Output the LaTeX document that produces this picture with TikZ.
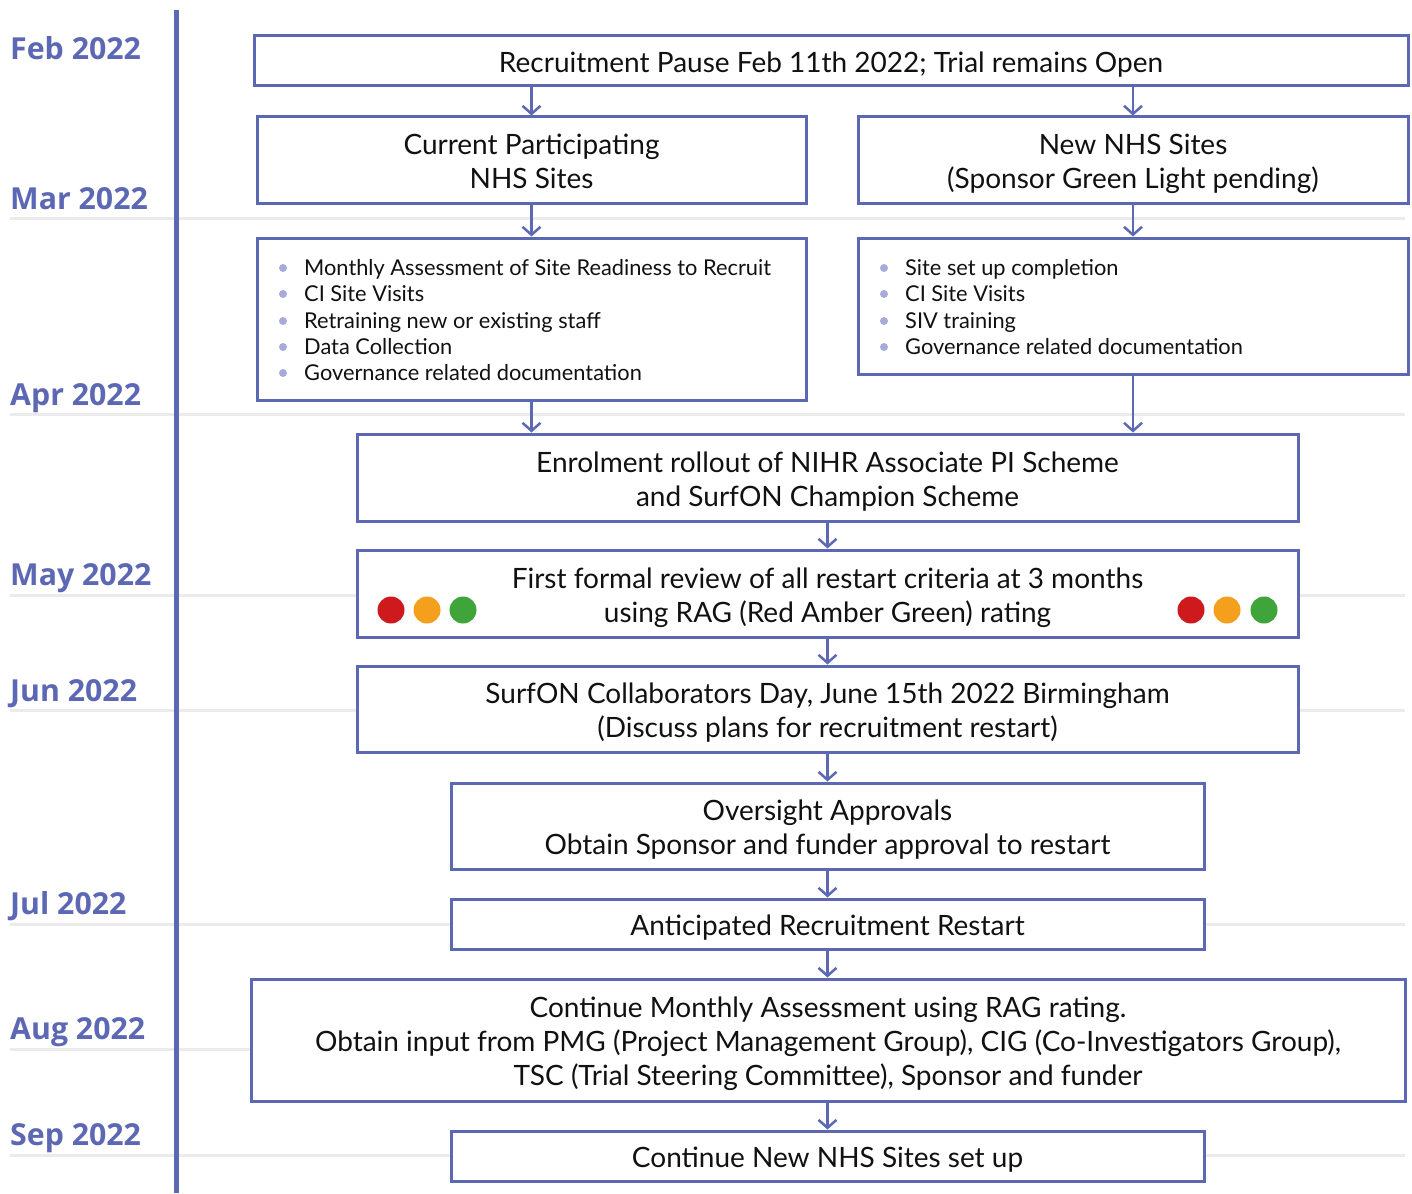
\documentclass[tikz,border=0pt]{standalone}
\usepackage{fontspec}
\setmainfont{Lato}
\newfontfamily\monthfont{Open Sans}
\usetikzlibrary{arrows.meta}
\definecolor{tl}{HTML}{5C68B3}
\definecolor{gl}{HTML}{EBEBEB}
\definecolor{bul}{HTML}{A8ABDA}
\definecolor{rr}{HTML}{CE1A1C}
\definecolor{aa}{HTML}{F4A01C}
\definecolor{gg}{HTML}{3FA53A}
\definecolor{txt}{HTML}{111111}
\newcommand\boxstrut{\rule[-2pt]{0pt}{30pt}}
\begin{document}
\begin{tikzpicture}[x=1pt,y=-1pt,
  box/.style={draw=tl, line width=3pt, fill=white, inner sep=0pt, align=center,
    font=\fontsize{28}{34}\selectfont, text=txt,
    execute at begin node=\boxstrut, execute at end node=\boxstrut},
  mbox/.style={box, execute at begin node={}, execute at end node={}, text height=57pt, text depth=0pt},
  tbox/.style={box, execute at begin node={}, execute at end node={}, text height=90pt, text depth=0pt},
  itemtext/.style={anchor=west, inner sep=0pt, text=txt, font=\fontsize{21.8}{26}\selectfont,
    text height=15pt, text depth=5pt},
  bulletdot/.style={circle, fill=bul, inner sep=0pt, minimum size=8pt},
  month/.style={anchor=base west, inner sep=0pt, text=tl, font=\monthfont\bfseries\fontsize{30.3}{36}\selectfont},
  gridline/.style={draw=gl, line width=3pt},
  arr/.style={draw=tl, line width=2.5pt, -{Straight Barb[length=8pt,width=18pt,line width=2.5pt]}},
  lamp/.style={circle, inner sep=0pt, minimum size=27pt}
]
\useasboundingbox (0,0) rectangle (1412,1193);
% grid lines
\foreach \yy in {218,414,595,710,924,1049,1155}
  \draw[gridline] (10,\yy) -- (1405,\yy);
% timeline
\coordinate (tltop) at (176,10);
\coordinate (tlbot) at (176,1193);
\draw[tl, line width=5pt] (tltop) -- (tlbot);
% months
\node[month] (m1) at (10,60) {Feb 2022};
\node[month] (m2) at (10,209) {Mar 2022};
\node[month] (m3) at (10,405) {Apr 2022};
\node[month] (m4) at (10,585) {May 2022};
\node[month] (m5) at (10,701) {Jun 2022};
\node[month] (m6) at (10,914) {Jul 2022};
\node[month] (m7) at (10,1039) {Aug 2022};
\node[month] (m8) at (10,1145) {Sep 2022};
% boxes
\node[box, minimum width=1154pt, minimum height=50pt] (b1) at (831,61) {Recruitment Pause Feb 11th 2022; Trial remains Open};
\node[mbox, minimum width=549pt, minimum height=86pt] (b2) at (531.5,160) {Current Participating\\NHS Sites};
\node[mbox, minimum width=550pt, minimum height=86pt] (b3) at (1133,160) {New NHS Sites\\(Sponsor Green Light pending)};
\node[draw=tl, line width=3pt, fill=white, inner sep=0pt, minimum width=549pt, minimum height=162pt] (b4) at (531.5,319) {};
\node[draw=tl, line width=3pt, fill=white, inner sep=0pt, minimum width=550pt, minimum height=136pt] (b5) at (1133,306) {};
\node[mbox, minimum width=941pt, minimum height=87pt] (b6) at (827.5,477.5) {Enrolment rollout of NIHR Associate PI Scheme\\and SurfON Champion Scheme};
\node[mbox, minimum width=941pt, minimum height=87pt] (b7) at (827.5,593.5) {First formal review of all restart criteria at 3 months\\using RAG (Red Amber Green) rating};
\node[mbox, minimum width=941pt, minimum height=86pt] (b8) at (827.5,709) {SurfON Collaborators Day, June 15th 2022 Birmingham\\(Discuss plans for recruitment restart)};
\node[mbox, minimum width=753pt, minimum height=86pt] (b9) at (827.5,826) {Oversight Approvals\\Obtain Sponsor and funder approval to restart};
\node[box, minimum width=753pt, minimum height=50pt] (b10) at (827.5,924) {Anticipated Recruitment Restart};
\node[tbox, minimum width=1154pt, minimum height=122pt] (b11) at (828,1040) {Continue Monthly Assessment using RAG rating.\\Obtain input from PMG (Project Management Group), CIG (Co-Investigators Group),\\TSC (Trial Steering Committee), Sponsor and funder};
\node[box, minimum width=753pt, minimum height=50pt] (b12) at (827.5,1156) {Continue New NHS Sites set up};
% bullet lists
\foreach \t/\yy [count=\i] in {Monthly Assessment of Site Readiness to Recruit/270, CI Site Visits/296, Retraining new or existing staff/323, Data Collection/349, Governance related documentation/375}{
  \node[bulletdot] (lb\i) at (283,\yy-2) {};
  \node[itemtext] (lt\i) at (304,\yy) {\t};
}
\foreach \t/\yy [count=\i] in {Site set up completion/270, CI Site Visits/296, SIV training/323, Governance related documentation/349}{
  \node[bulletdot] (rb\i) at (884,\yy-2) {};
  \node[itemtext] (rt\i) at (905,\yy) {\t};
}
% RAG lamps
\node[lamp, fill=rr] (c1) at (391,610) {};
\node[lamp, fill=aa] (c2) at (427,610) {};
\node[lamp, fill=gg] (c3) at (463,610) {};
\node[lamp, fill=rr] (c4) at (1191,610) {};
\node[lamp, fill=aa] (c5) at (1227,610) {};
\node[lamp, fill=gg] (c6) at (1264,610) {};
% arrows
\draw[arr] (b2.north |- b1.south) -- (b2.north);
\draw[arr] (b3.north |- b1.south) -- (b3.north);
\draw[arr] (b2.south) -- (b4.north);
\draw[arr] (b3.south) -- (b5.north);
\draw[arr] (b4.south) -- (b4.south |- b6.north);
\draw[arr] (b5.south) -- (b5.south |- b6.north);
\draw[arr] (b6.south) -- (b7.north);
\draw[arr] (b7.south) -- (b8.north);
\draw[arr] (b8.south) -- (b9.north);
\draw[arr] (b9.south) -- (b10.north);
\draw[arr] (b10.south) -- (b10.south |- b11.north);
\draw[arr] (b10.south |- b11.south) -- (b12.north);
\end{tikzpicture}
\end{document}
